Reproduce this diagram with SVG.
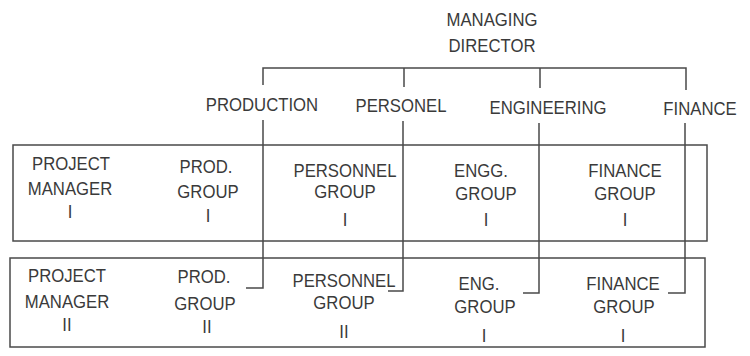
<svg xmlns="http://www.w3.org/2000/svg" width="750" height="356" viewBox="0 0 750 356">
<style>
text{font-family:"Liberation Sans",Arial,sans-serif;font-size:19px;fill:#3a3a3a;text-anchor:middle}
.ln{fill:none;stroke:#4a4a4a;stroke-width:1.5}
.box{fill:none;stroke:#4a4a4a;stroke-width:1.5}
</style>
<rect width="750" height="356" fill="#ffffff"/>
<g id="md"><text transform="translate(492 26) scale(.88 1)">MANAGING</text><text transform="translate(492 52) scale(.88 1)">DIRECTOR</text></g>
<g id="production"><text transform="translate(262 111) scale(.88 1)">PRODUCTION</text></g>
<g id="personel"><text transform="translate(401 112) scale(.88 1)">PERSONEL</text></g>
<g id="engineering"><text transform="translate(548 114) scale(.88 1)">ENGINEERING</text></g>
<g id="finance"><text transform="translate(700 115) scale(.88 1)">FINANCE</text></g>
<g id="box1"><rect class="box" x="13" y="145" width="694" height="96"/></g>
<g id="box2"><rect class="box" x="10" y="258" width="695" height="89"/></g>
<g id="connectors">
<path class="ln" d="M263 85V68H686V90M404 68V87M540 68V88"/>
<path class="ln" d="M263 120V288H246"/>
<path class="ln" d="M403 121V291H388"/>
<path class="ln" d="M539 123V293H523"/>
<path class="ln" d="M685 123V293H668"/>
</g>
<g id="pm1"><text transform="translate(71 170) scale(.88 1)">PROJECT</text><text transform="translate(70 195) scale(.88 1)">MANAGER</text><text transform="translate(70 218) scale(.88 1)">I</text></g>
<g id="prod1"><text transform="translate(206 173) scale(.88 1)">PROD.</text><text transform="translate(208 198) scale(.88 1)">GROUP</text><text transform="translate(208 222) scale(.88 1)">I</text></g>
<g id="pers1"><text transform="translate(345 177) scale(.88 1)">PERSONNEL</text><text transform="translate(345 198) scale(.88 1)">GROUP</text><text transform="translate(345 226) scale(.88 1)">I</text></g>
<g id="eng1"><text transform="translate(481 177) scale(.88 1)">ENGG.</text><text transform="translate(486 200) scale(.88 1)">GROUP</text><text transform="translate(486 226) scale(.88 1)">I</text></g>
<g id="fin1"><text transform="translate(625 177) scale(.88 1)">FINANCE</text><text transform="translate(625 200) scale(.88 1)">GROUP</text><text transform="translate(625 226) scale(.88 1)">I</text></g>
<g id="pm2"><text transform="translate(67 282) scale(.88 1)">PROJECT</text><text transform="translate(67 308) scale(.88 1)">MANAGER</text><text transform="translate(67 331) scale(.88 1)">II</text></g>
<g id="prod2"><text transform="translate(204 283) scale(.88 1)">PROD.</text><text transform="translate(205 310) scale(.88 1)">GROUP</text><text transform="translate(207 333) scale(.88 1)">II</text></g>
<g id="pers2"><text transform="translate(344 287) scale(.88 1)">PERSONNEL</text><text transform="translate(344 309) scale(.88 1)">GROUP</text><text transform="translate(344 338) scale(.88 1)">II</text></g>
<g id="eng2"><text transform="translate(479 290) scale(.88 1)">ENG.</text><text transform="translate(485 313) scale(.88 1)">GROUP</text><text transform="translate(484 342) scale(.88 1)">I</text></g>
<g id="fin2"><text transform="translate(623 290) scale(.88 1)">FINANCE</text><text transform="translate(624 313) scale(.88 1)">GROUP</text><text transform="translate(623 342) scale(.88 1)">I</text></g>
</svg>
